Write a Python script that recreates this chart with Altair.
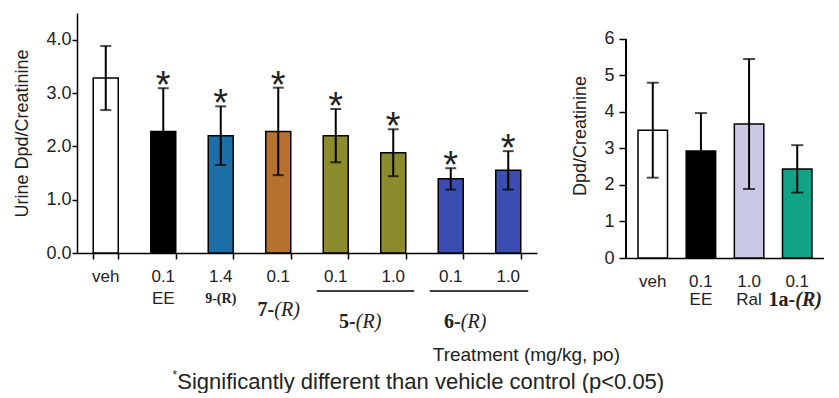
import altair as alt
import pandas as pd

# ---------------- data ----------------
left_cats = ["veh", "EE", "9-(R)", "7-(R)", "5-(R) 0.1", "5-(R) 1.0", "6-(R) 0.1", "6-(R) 1.0"]
left_means = [3.28, 2.28, 2.20, 2.28, 2.20, 1.88, 1.39, 1.55]
left_errs = [0.60, 0.81, 0.55, 0.82, 0.50, 0.44, 0.20, 0.36]
left_colors = ["#ffffff", "#000000", "#1c6fa6", "#b5712d", "#8c8c2e", "#8c8c2e", "#3b4db0", "#3b4db0"]
left_sig = ["", "*", "*", "*", "*", "*", "*", "*"]
left_dose = ["veh", "0.1", "1.4", "0.1", "0.1", "1.0", "0.1", "1.0"]
left_sub = ["", "EE", "", "", "", "", "", ""]

right_cats = ["veh", "EE", "Ral", "1a-(R)"]
right_means = [3.50, 2.93, 3.67, 2.44]
right_errs = [1.30, 1.04, 1.78, 0.65]
right_colors = ["#ffffff", "#000000", "#c9c9e6", "#11a385"]
right_dose = ["veh", "0.1", "1.0", "0.1"]
right_sub = ["", "EE", "Ral", ""]

left_yticks = [0, 0.5, 1, 1.5, 2, 2.5, 3, 3.5, 4]
right_yticks = [0, 1, 2, 3, 4, 5, 6]

FONT = "Liberation Sans"
SERIF = "Liberation Serif"
INK = "#222222"

ldf = pd.DataFrame({"cat": left_cats, "mean": left_means, "err": left_errs,
                    "color": left_colors, "sig": left_sig,
                    "dose": left_dose, "sub": left_sub})
ldf["lo"] = ldf["mean"] - ldf["err"]
ldf["hi"] = ldf["mean"] + ldf["err"]

rdf = pd.DataFrame({"cat": right_cats, "mean": right_means, "err": right_errs,
                    "color": right_colors, "dose": right_dose, "sub": right_sub})
rdf["lo"] = rdf["mean"] - rdf["err"]
rdf["hi"] = rdf["mean"] + rdf["err"]

# ---------------- left panel ----------------
LW, LH = 460, 240
lx_scale = alt.Scale(domain=left_cats, paddingInner=0.565, paddingOuter=0.2825)
ly_scale = alt.Scale(domain=[0, 4.5], nice=False)


def LX(field="cat"):
    return alt.X(f"{field}:N", scale=lx_scale, title=None)


lbase = alt.Chart(ldf)
lbars = lbase.mark_bar(stroke="black", strokeWidth=1.5).encode(
    x=alt.X("cat:N", scale=lx_scale, title=None,
            axis=alt.Axis(labels=False, tickBand="extent", domainColor="black",
                          domainWidth=1.5, tickColor="black", tickWidth=1.5,
                          tickSize=6, grid=False)),
    y=alt.Y("mean:Q", scale=ly_scale, title="Urine Dpd/Creatinine",
            axis=alt.Axis(values=left_yticks, grid=False,
                          labelExpr="datum.value % 1 == 0 ? format(datum.value, '.1f') : ''",
                          labelFont=FONT, labelFontSize=18, labelColor=INK,
                          labelPadding=1, tickSize=5, tickColor="black", tickWidth=1.5,
                          domainColor="black", domainWidth=1.5,
                          titleFont=FONT, titleFontSize=18, titleFontWeight="normal",
                          titleColor=INK, titlePadding=14)),
    color=alt.Color("color:N", scale=None),
)
lrule = lbase.mark_rule(color="black", strokeWidth=2).encode(
    x=LX(), y=alt.Y("lo:Q", scale=ly_scale), y2="hi:Q")
lcap_hi = lbase.mark_tick(color="black", thickness=2, size=11).encode(
    x=LX(), y=alt.Y("hi:Q", scale=ly_scale))
lcap_lo = lbase.mark_tick(color="black", thickness=2, size=11).encode(
    x=LX(), y=alt.Y("lo:Q", scale=ly_scale))
lstar = lbase.mark_text(font=FONT, fontSize=38, color=INK, baseline="alphabetic", dy=10).encode(
    x=LX(), y=alt.Y("hi:Q", scale=ly_scale), text="sig:N")
ldose = lbase.mark_text(font=FONT, fontSize=17, color=INK, baseline="middle").encode(
    x=LX(), y=alt.value(LH + 24), text="dose:N")
lsub = lbase.mark_text(font=FONT, fontSize=17, color=INK, baseline="middle").encode(
    x=LX(), y=alt.value(LH + 46), text="sub:N")

lnine = alt.Chart(pd.DataFrame({"cat": ["9-(R)"], "t": ["9-(R)"]})).mark_text(
    font=SERIF, fontSize=14, fontWeight="bold", color=INK, baseline="middle").encode(
    x=LX(), y=alt.value(LH + 46), text="t:N")


def compound(anchor, num, rpart, split, ypix, size=20):
    d = pd.DataFrame({"cat": [anchor], "n": [num], "r": [rpart]})
    a = alt.Chart(d).mark_text(font=SERIF, fontSize=size, fontWeight="bold", color=INK,
                               align="right", baseline="middle", dx=split).encode(
        x=LX(), y=alt.value(ypix), text="n:N")
    b = alt.Chart(d).mark_text(font=SERIF, fontSize=size, fontStyle="italic", color=INK,
                               align="left", baseline="middle", dx=split).encode(
        x=LX(), y=alt.value(ypix), text="r:N")
    return [a, b]


def underline(c1, c2, off1, off2, ypix):
    d = pd.DataFrame({"cat": [c1], "c2": [c2]})
    return alt.Chart(d).mark_rule(color="black", strokeWidth=1.5,
                                  xOffset=off1, x2Offset=off2).encode(
        x=alt.X("cat:N", scale=lx_scale, title=None, bandPosition=0.5),
        x2=alt.X2("c2:N", bandPosition=0.5),
        y=alt.value(ypix))


lgroups = []
lgroups += compound("7-(R)", "7-", "(R)", -4, LH + 57)
lgroups += compound("5-(R) 0.1", "5-", "(R)", 20, LH + 69)
lgroups += compound("6-(R) 0.1", "6-", "(R)", 10, LH + 69)
lgroups.append(underline("5-(R) 0.1", "5-(R) 1.0", -19, 21, LH + 38))
lgroups.append(underline("6-(R) 0.1", "6-(R) 1.0", -21, 20, LH + 38))

ltreat = alt.Chart(pd.DataFrame({"cat": ["6-(R) 0.1"], "t": ["Treatment (mg/kg, po)"]})).mark_text(
    font=FONT, fontSize=19, color=INK, align="left", baseline="middle", dx=-18).encode(
    x=LX(), y=alt.value(LH + 102), text="t:N")

lfoot_star = alt.Chart(pd.DataFrame({"cat": ["EE"], "t": ["*"]})).mark_text(
    font=FONT, fontSize=12, color=INK, align="right", baseline="middle", dx=14).encode(
    x=LX(), y=alt.value(LH + 122), text="t:N")
lfoot = alt.Chart(pd.DataFrame({"cat": ["EE"], "t": ["Significantly different than vehicle control (p<0.05)"]})).mark_text(
    font=FONT, fontSize=22, color=INK, align="left", baseline="middle", dx=14).encode(
    x=LX(), y=alt.value(LH + 129), text="t:N")

left = alt.layer(lbars, lrule, lcap_hi, lcap_lo, lstar, ldose, lsub, lnine,
                 *lgroups, ltreat, lfoot_star, lfoot).properties(width=LW, height=LH)

# ---------------- right panel ----------------
RW, RH = 198, 245
rx_scale = alt.Scale(domain=right_cats, paddingInner=0.388, paddingOuter=0.25)
ry_scale = alt.Scale(domain=[0, 6.71], nice=False)


def RX():
    return alt.X("cat:N", scale=rx_scale, title=None)


rbase = alt.Chart(rdf)
rbars = rbase.mark_bar(stroke="black", strokeWidth=1.5).encode(
    x=alt.X("cat:N", scale=rx_scale, title=None,
            axis=alt.Axis(labels=False, ticks=False, domainColor="black",
                          domainWidth=1.5, grid=False)),
    y=alt.Y("mean:Q", scale=ry_scale, title="Dpd/Creatinine",
            axis=alt.Axis(values=right_yticks, grid=False, domain=False,
                          labelFont=FONT, labelFontSize=18, labelColor=INK,
                          labelPadding=5, tickSize=7, tickColor="black", tickWidth=1.5,
                          titleFont=FONT, titleFontSize=18, titleFontWeight="normal",
                          titleColor=INK, titlePadding=14)),
    color=alt.Color("color:N", scale=None),
)
raxis = rbase.mark_rule(color="black", strokeWidth=1.5).encode(
    x=alt.value(0), y=alt.datum(0, scale=ry_scale), y2=alt.datum(max(right_yticks)))
rrule = rbase.mark_rule(color="black", strokeWidth=2).encode(
    x=RX(), y=alt.Y("lo:Q", scale=ry_scale), y2="hi:Q")
rcap_hi = rbase.mark_tick(color="black", thickness=2, size=12).encode(
    x=RX(), y=alt.Y("hi:Q", scale=ry_scale))
rcap_lo = rbase.mark_tick(color="black", thickness=2, size=12).encode(
    x=RX(), y=alt.Y("lo:Q", scale=ry_scale))
rdose = rbase.mark_text(font=FONT, fontSize=17, color=INK, baseline="middle").encode(
    x=RX(), y=alt.value(RH + 24), text="dose:N")
rsub = rbase.mark_text(font=FONT, fontSize=17, color=INK, baseline="middle").encode(
    x=RX(), y=alt.value(RH + 42), text="sub:N")

d1a = pd.DataFrame({"cat": ["1a-(R)"], "n": ["1a-"], "r": ["(R)"]})
r1a_n = alt.Chart(d1a).mark_text(font=SERIF, fontSize=20, fontWeight="bold", color=INK,
                                 align="right", baseline="middle", dx=-2).encode(
    x=RX(), y=alt.value(RH + 42), text="n:N")
r1a_r = alt.Chart(d1a).mark_text(font=SERIF, fontSize=20, fontWeight="bold", fontStyle="italic",
                                 color=INK, align="left", baseline="middle", dx=-2).encode(
    x=RX(), y=alt.value(RH + 42), text="r:N")

right = alt.layer(rbars, raxis, rrule, rcap_hi, rcap_lo, rdose, rsub, r1a_n, r1a_r).properties(
    width=RW, height=RH)

chart = alt.hconcat(left, right, spacing=89, bounds="flush").configure_view(
    stroke=None).properties(background="white",
                            padding={"left": 5, "top": 5, "right": 0, "bottom": 0})

chart.save("out.html", embed_options={"renderer": "svg", "actions": False})
